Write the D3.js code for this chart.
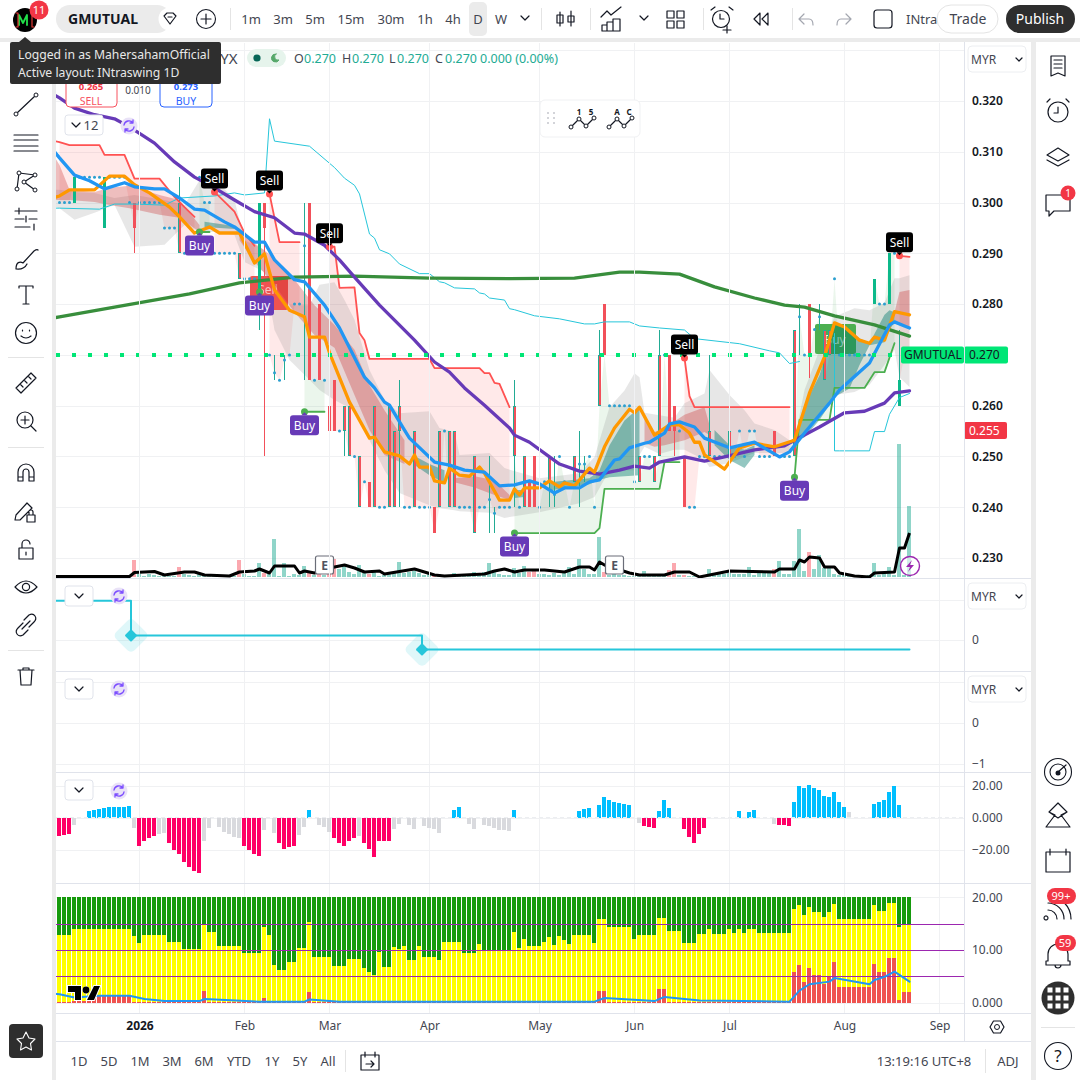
<!DOCTYPE html>
<html>
<head>
<meta charset="utf-8">
<title>GMUTUAL 1D</title>
<script src="https://cdn.jsdelivr.net/npm/d3@7"></script>
<style>
  html, body { margin: 0; background: #fff; }
  svg { display: block; font-family: "Noto Sans", sans-serif; }
  .tick line { display: none; }
</style>
</head>
<body>
<svg id="chart" width="1080" height="1080"></svg>
<script>
// Candles, one entry per daily bar. Flat bars have open === close and show as a dot.
const candleOpen = [
  .300,.300,.300,.300,.305,.305,.305,.305,.305,.295,
  .305,.305,.305,.305,.300,.300,.300,.300,.300,.300,
  .300,.295,.295,.295,.300,.290,.290,.290,.305,.300,
  .300,.290,.290,.290,.290,.290,.290,.285,.285,.285,
  .280,.300,.270,.2665,.265,.269,.270,.280,.280,.2915,
  .300,.265,.280,.265,.260,.265,.255,.260,.260,.250,
  .250,.245,.245,.260,.240,.240,.260,.255,.260,.240,
  .240,.255,.240,.240,.240,.240,.255,.255,.255,.255,
  .240,.240,.240,.250,.240,.240,.2415,.2388,.240,.240,
  .240,.260,.240,.250,.245,.250,.240,.245,.250,.2425,
  .250,.245,.240,.250,.2485,.2485,.250,.240,.270,.280,
  .260,.260,.260,.260,.260,.245,.250,.250,.250,.250,
  .270,.270,.270,.260,.255,.250,.240,.240,.250,.250,
  .255,.250,.250,.250,.255,.250,.255,.250,.255,.255,
  .250,.250,.250,.255,.250,.250,.250,.275,.2775,.270,
  .280,.275,.2775,.275,.275,.285,.270,.270,.270,.270,
  .270,.270,.270,.280,.280,.280,.280,.290,.260,.270,
  .270
];
const candleClose = [
  .300,.300,.300,.305,.305,.305,.305,.305,.305,.305,
  .305,.305,.305,.305,.300,.295,.300,.300,.300,.300,
  .300,.295,.295,.295,.290,.290,.290,.290,.305,.300,
  .300,.290,.290,.290,.290,.290,.285,.285,.285,.285,
  .300,.295,.270,.2665,.265,.269,.270,.280,.280,.2915,
  .265,.265,.265,.265,.255,.255,.255,.255,.250,.250,
  .240,.245,.240,.240,.240,.240,.240,.240,.255,.240,
  .240,.240,.240,.240,.240,.235,.240,.255,.240,.240,
  .240,.240,.240,.235,.240,.240,.2415,.2388,.240,.240,
  .240,.250,.240,.240,.240,.240,.240,.245,.245,.2425,
  .250,.245,.240,.245,.2485,.2485,.250,.240,.260,.270,
  .260,.260,.260,.260,.260,.245,.245,.250,.250,.245,
  .250,.270,.255,.255,.255,.240,.240,.240,.250,.250,
  .250,.250,.250,.250,.250,.250,.255,.250,.255,.255,
  .250,.250,.250,.250,.250,.250,.250,.250,.2775,.270,
  .270,.275,.2775,.265,.270,.285,.270,.270,.270,.270,
  .270,.270,.270,.285,.280,.280,.290,.290,.265,.270,
  .270
];
// bars whose wick goes past the body: [bar, high, low]
const candleWicks = [
  [15,.300,.290],[24,.305,.290],[40,.300,.275],[41,.300,.250],[43,.270,.265],[45,.270,.265],
  [49,.300,.265],[54,.265,.255],[57,.260,.250],[68,.265,.240],[86,.250,.235],[87,.240,.235],
  [91,.265,.240],[98,.250,.240],[99,.250,.240],[104,.255,.240],[105,.250,.245],[108,.275,.260],
  [120,.275,.250],[123,.260,.250],[130,.270,.250],[134,.270,.250],[147,.275,.250],[148,.280,.270],
  [150,.280,.2655],[152,.280,.275],[168,.275,.260]
];
// bars drawn with a teal edge round a red body
const mixedBars = [24,36,57,58,60,63,66,67,68,71,76,78,79,83,91,93,98,103,108,116,119,120,130,134,147,153,154];

// Moving averages as [bar, price]. Bar -1 is the bar just off the left edge.
const purpleMa = [[-1,.3212],[0,.3206],[3,.3186],[7,.3173],[11,.3165],[14,.3149],[19,.3117],[23,.3080],[27,.3050],[31,.3029],[35,.3005],[39,.2982],[43,.2970],[47,.2940],[49,.2938],[53,.2916],[56,.2887],[59,.2853],[64,.2798],[71,.2729],[75,.2686],[78,.2666],[81,.2635],[85,.2601],[90,.2556],[91,.2542],[94,.2528],[98,.2499],[100,.2485],[104,.2471],[108,.2465],[112,.2473],[115,.2481],[118,.2477],[120,.2489],[125,.2499],[129,.2491],[133,.2499],[139,.2513],[145,.2521],[147,.2532],[152,.2558],[157,.2586],[161,.2589],[165,.2605],[167,.2625],[170,.2629]];
const greenMa = [[-1,.2773],[0,.2775],[11,.2794],[26,.2820],[36,.2842],[47,.2853],[59,.2855],[74,.2851],[90,.2850],[103,.2851],[109,.2859],[112,.2863],[116,.2863],[124,.2859],[131,.2834],[139,.2812],[145,.2798],[149,.2794],[155,.2777],[163,.2759],[170,.2737]];
const blueMa = [[-1,.3100],[0,.3088],[3,.3054],[6,.3043],[9,.3027],[13,.3039],[15,.3031],[19,.3027],[21,.3027],[24,.3009],[27,.2987],[29,.2985],[33,.2962],[35,.2952],[39,.2922],[41,.2922],[43,.2887],[47,.2848],[49,.2844],[53,.2798],[56,.2753],[58,.2714],[61,.2656],[63,.2635],[65,.2607],[66,.2601],[69,.2552],[70,.2536],[75,.2489],[78,.2483],[81,.2473],[85,.2469],[88,.2442],[91,.2444],[94,.2452],[96,.2446],[99,.2428],[101,.2438],[104,.2438],[106,.2450],[108,.2454],[111,.2493],[112,.2495],[114,.2517],[117,.2526],[118,.2528],[121,.2546],[122,.2564],[124,.2568],[127,.2558],[129,.2536],[134,.2517],[139,.2528],[144,.2499],[146,.2509],[149,.2546],[154,.2605],[156,.2631],[162,.2684],[166,.2759],[167,.2765],[169,.2757],[170,.2753]];
const orangeMa = [[-1,.3010],[0,.3013],[2,.3025],[7,.3025],[10,.3052],[13,.3052],[15,.3035],[18,.3019],[22,.2991],[24,.2972],[27,.2940],[30,.2952],[32,.2940],[36,.2940],[39,.2881],[41,.2899],[43,.2828],[46,.2788],[49,.2775],[50,.2735],[53,.2735],[54,.2704],[57,.2631],[58,.2607],[62,.2536],[63,.2538],[65,.2509],[68,.2501],[70,.2485],[71,.2503],[72,.2479],[74,.2479],[75,.2452],[77,.2448],[78,.2477],[80,.2463],[82,.2461],[84,.2479],[85,.2467],[88,.2414],[90,.2414],[91,.2436],[92,.2424],[93,.2438],[96,.2438],[98,.2452],[100,.2440],[101,.2448],[103,.2442],[106,.2477],[107,.2469],[109,.2519],[111,.2556],[114,.2593],[115,.2586],[116,.2597],[119,.2542],[122,.2562],[124,.2562],[126,.2546],[127,.2528],[128,.2528],[129,.2503],[133,.2475],[136,.2517],[139,.2526],[143,.2519],[147,.2532],[150,.2625],[153,.2696],[155,.2763],[157,.2755],[160,.2729],[162,.2723],[163,.2735],[165,.2729],[167,.2785],[170,.2779]];

// Thin channel lines
const channelUpper = [[-1,.2989],[0,.2989],[8,.2987],[11,.2997],[15,.2997],[21,.2995],[24,.3009],[31,.3013],[35,.3019],[37,.3015],[41,.3019],[42,.3165],[43,.3121],[50,.3111],[55,.3069],[57,.3048],[59,.3034],[60,.3017],[62,.2938],[63,.2930],[64,.2907],[66,.2899],[68,.2879],[72,.2860],[74,.2860],[76,.2844],[77,.2842],[79,.2832],[83,.2830],[84,.2822],[85,.2820],[86,.2812],[89,.2808],[90,.2791],[91,.2789],[95,.2777],[100,.2771],[105,.2761],[107,.2761],[109,.2765],[114,.2765],[116,.2757],[120,.2753],[125,.2749],[127,.2732],[136,.2722],[142,.2708],[144,.2704],[146,.2683],[148,.2687]];
const channelLower = [[155,.2742],[155,.2511],[156,.2511],[162,.2511],[163,.2549],[165,.2549],[166,.2583],[168,.2616],[170,.2624]];

// Stop lines with their shaded area down to the close
const redStops = [
  [[-1,.3121],[0,.3119],[2,.3113],[8,.3113],[9,.3094],[13,.3094],[15,.3047],[20,.3047],[23,.3011],[25,.2991],[27,.2972]],
  [[31,.3021],[35,.2982],[37,.2940],[39,.2915]],
  [[42,.3017],[44,.2922],[48,.2922]],
  [[54,.2913],[55,.2913],[56,.2832],[59,.2833],[60,.2743],[61,.2729],[62,.2692],[74,.2692],[75,.2674],[84,.2674],[85,.2664],[86,.2664],[87,.2645],[88,.2643],[90,.2597]],
  [[125,.2694],[126,.2619],[127,.2597],[146,.2597]],
  [[168,.2895],[170,.2893]]
];
const greenStops = [
  [[28,.2942],[30,.2942]],
  [[49,.2588],[53,.2588]],
  [[91,.2349],[107,.2349],[108,.2359],[109,.2436],[120,.2436],[121,.2489],[124,.2489]],
  [[147,.2459],[148,.2572],[154,.2572],[155,.2635],[161,.2635],[163,.2666],[165,.2666],[167,.2723]]
];

// Cloud bands as [bar, upper, lower]
const cloudBand = [[-1,.3025,.2992],[0,.3025,.2989],[3,.3021,.2966],[7,.3019,.2980],[11,.3009,.2995],[15,.3015,.2913],[21,.3005,.2917],[25,.2995,.2956],[28,.3044,.2942],[31,.3048,.2942],[35,.3005,.2936],[37,.2926,.2883],[41,.2907,.2863],[43,.2808,.2749],[46,.2798,.2690],[50,.2798,.2651],[52,.2838,.2631],[55,.2843,.2611],[57,.2808,.2601],[59,.2769,.2592],[62,.2670,.2532],[65,.2611,.2473],[68,.2585,.2428],[74,.2589,.2404],[76,.2556,.2398],[79,.2548,.2394],[80,.2503,.2392],[86,.2507,.2389],[89,.2477,.2379],[96,.2457,.2390],[104,.2467,.2408],[107,.2499,.2420],[110,.2597,.2473],[113,.2630,.2473],[115,.2664,.2473],[116,.2656,.2503],[117,.2586,.2519],[120,.2581,.2505],[123,.2576,.2513],[125,.2605,.2513],[129,.2624,.2493],[130,.2670,.2479],[134,.2621,.2487],[137,.2591,.2499],[139,.2565,.2507],[143,.2552,.2507],[146,.2532,.2507],[147,.2532,.2519],[149,.2631,.2542],[152,.2710,.2582],[155,.2775,.2621],[159,.2792,.2627],[162,.2788,.2641],[165,.2802,.2680],[167,.2851,.2710],[168,.2851,.2656],[170,.2857,.2637]];
const coreRed = [
  [[-1,.3090,.3005],[0,.3074,.3005],[2,.3025,.3005],[7,.3021,.3001],[10,.3029,.2995],[14,.3033,.2989],[20,.3015,.2976],[24,.3005,.2970],[28,.2956,.2942]],
  [[36,.2942,.2926],[39,.2920,.2883],[43,.2891,.2838],[47,.2848,.2784],[51,.2798,.2739],[55,.2759,.2714],[59,.2710,.2621],[62,.2640,.2552],[65,.2591,.2503],[69,.2532,.2485]],
  [[79,.2457,.2449],[83,.2461,.2439],[87,.2453,.2424],[90,.2424,.2414]],
  [[117,.2582,.2526],[119,.2548,.2519],[121,.2556,.2522],[125,.2582,.2532],[129,.2597,.2548],[130,.2562,.2542]],
  [[167,.2784,.2765],[168,.2824,.2759],[170,.2828,.2753]]
];
const coreTeal = [
  [[29,.2962,.2952],[35,.2954,.2948]],
  [[71,.2501,.2483],[74,.2485,.2463],[77,.2473,.2448]],
  [[91,.2434,.2418],[93,.2434,.2420]],
  [[98,.2449,.2433],[106,.2457,.2445],[108,.2473,.2454],[110,.2522,.2459],[113,.2571,.2461],[116,.2597,.2463]],
  [[131,.2552,.2522],[134,.2522,.2493],[137,.2513,.2477],[139,.2522,.2503]],
  [[147,.2532,.2528],[149,.2601,.2538],[152,.2660,.2572],[155,.2759,.2617],[158,.2749,.2634],[160,.2733,.2680],[162,.2723,.2719],[165,.2779,.2725],[166,.2788,.2749],[167,.2784,.2765]]
];

// Volume, in thousands of lots (estimated, the pane has no axis)
const volume = [
  1,1,1,1,1,1,1,1,1,1,1,1,1,1,2,17,3,1,3,2,
  1,1,1,1,10,3,2,1,3,1,1,1,1,1,1,1,17,3,1,1,
  14,4,3,38,1,14,1,3,2,11,5,2,3,2,3,18,8,12,5,3,
  12,4,3,7,1,2,4,5,15,4,5,6,4,2,3,2,3,2,2,4,
  2,1,3,5,3,5,14,6,3,2,2,9,4,11,5,8,3,3,2,4,
  2,5,10,3,18,8,3,3,40,5,2,3,2,2,1,1,2,6,2,2,
  2,3,7,14,2,2,1,1,1,1,8,2,3,3,4,3,3,3,10,2,
  5,4,4,8,16,3,3,16,48,6,25,8,22,9,10,3,2,2,1,1,
  1,1,2,14,2,3,10,2,133,2,71
];
const volumeRedExtra = [24,36];
const volumeMa = [[-1,.5],[0,.5],[14,.5],[15,4.5],[19,5.5],[21,2],[25,5],[27,5],[29,2],[34,1],[36,5],[39,6],[40,8],[42,4],[43,11],[47,11],[48,4],[49,6],[51,4],[55,10],[57,12],[59,9],[61,5],[64,6],[65,3],[71,8],[75,2],[77,1],[85,3],[87,6],[89,8],[91,5],[93,7],[97,7],[101,5],[104,10],[106,10],[107,7],[108,15],[109,12],[114,4],[116,2],[121,2],[123,5],[126,5],[128,0],[134,6],[143,5],[144,8],[147,8],[148,17],[149,15],[150,20],[152,19],[153,10],[155,10],[156,4],[159,1],[162,0],[163,4],[167,5],[168,29],[169,29],[170,44]];

// Signals: bar and price of the marker
const sellBars = [31,42,54,125,168];
const sellPrices = [.3021,.3017,.2913,.2694,.2895];
const buyBars = [28,40,49,91,147];
const buyPrices = [.2942,.2824,.2588,.2349,.2459];
const earningsBars = [53,111];

// Second pane: step line
const stepLine = [[-1,.97],[14.3,.97],[14.3,.1],[72.5,.1],[72.5,-.25],[170,-.25]];
const stepMarkers = [[14.3,.1],[72.5,-.25]];

// Histogram pane
const histogram = [
  -11.5,-11,-10.3,-4.7,0,0,3.9,4.5,5.6,6,
  6.4,6.4,6.4,6.4,7,-6.8,-17.5,-14.4,-12.6,-11.5,
  -10.3,-9.7,-15.7,-20,-22.5,-28,-31,-33.6,-34.8,-14.4,
  -6.6,0,-6,-9,-10.3,-12,-12.8,-17.5,-20,-22.5,
  -23.9,-7.8,0,-9.7,-15.9,-19.6,-18.3,-17.7,-11,-6,
  4.5,0,-4.7,-6,-9,-12.8,-15.9,-17.7,-14.6,-12.8,
  -11.5,-15.9,-19.6,-24.5,-14.6,-14.6,-14.6,-7.2,-4.1,0,
  -4.7,-7.2,0,-5.4,-6.6,-7.2,-9.7,0,0,4.5,
  6.4,0,-4.1,-7.2,0,-4.7,-5.4,-6.6,-7.8,-7.8,
  -8.4,4.5,0,0,0,0,0,0,0,0,
  0,0,0,0,3.9,5.2,5.8,0,7.6,12.6,
  10.7,9.5,8.9,8.2,7.6,0,-3.5,-5.4,-6,-6.6,
  3.9,10.7,5.8,0,0,-7.2,-12.2,-15.9,-10.3,-6.6,
  0,0,0,0,0,0,3.9,0,3.3,4.5,
  0,0,0,-4.1,-4.7,-4.7,-5.4,10,20,18.7,
  20.6,18.7,17.5,13.2,12.6,15.7,10,6.4,3.3,0,
  0,0,0,8.2,10,10.7,15.7,19.4,7.6,0,
  0
];
const histogramGreyBars = [3,15,20,21,29,30,32,33,34,35,36,41,43,48,49,52,53,54,60,67,68,70,71,73,74,75,76,82,83,85,86,87,88,89,90,116,143,158];

// Bottom pane: green runs to the top level, yellow and red are stacked in front
const stackTop = 20;
const stackYellow = [
  12.8,12.8,12.8,13.9,13.9,13.9,13.9,13.9,13.9,13.9,
  13.9,13.9,13.9,13.9,13.9,12.6,11.3,12.8,12.8,12.8,
  12.8,12.8,11.5,11.5,11.5,10.2,10.2,10.2,10.2,14.9,
  13.4,13.4,10.7,10.7,10.7,10.7,10.7,9.4,9.4,9.4,
  9.4,14.3,12.8,7.1,6.2,6.2,7.7,7.7,10.3,10.3,
  15.3,8.6,8.6,8.6,8.6,6.9,6.9,6.9,8.3,8.3,
  8.3,6.6,5.8,5.2,9.6,6.8,6.8,10.5,10.2,10.7,
  8.1,8.1,10.7,8.6,8.6,8.6,8.1,11.5,11.5,11.5,
  11.5,9.4,9.4,9.4,11.1,9.8,9.8,9.8,9.8,9.8,
  9.8,13.4,10.3,12.1,10.7,10.7,10.7,11.5,12.4,10.9,
  12.6,11.9,11.1,12.8,12.8,12.8,12.8,11.3,15.8,15.8,
  14.3,14.3,14.3,14.3,14.3,12.1,12.8,12.8,12.8,12.8,
  16,16,13.6,13.6,13.6,11.3,11.3,11.3,13,13,
  13.9,13,13,13,13.9,13.2,13.9,13.2,13.9,13.9,
  13.2,13.2,13.2,13.2,13.2,13.2,13.2,17.7,18.5,16.6,
  18.1,17.2,17.2,16.2,17.2,18.7,15.8,15.8,15.8,15.8,
  15.8,15.8,15.8,18.5,17.4,17.4,19,19,14.3,14.9,
  14.9
];
const stackRed = [
  .1,.1,.1,.3,.3,.3,.3,1.3,1.3,1.3,
  1.3,1.3,1.3,1.3,1.3,.1,.1,.1,.1,.1,
  .1,.1,.1,.1,.1,.1,.1,.1,.1,2.2,
  .1,.1,.1,.1,.1,.1,.1,.1,.1,.1,
  .1,.9,.1,.1,.1,.1,.1,.1,.1,.1,
  2,.2,.2,.2,.2,.05,.05,.05,.05,.05,
  .05,.05,.05,.05,.05,.05,.05,.05,.05,.05,
  .05,.05,.05,.05,.05,.05,.05,.05,.05,.05,
  .05,.05,.05,.05,.05,.05,.05,.05,.05,.05,
  .05,.05,.05,.05,.05,.05,.05,.05,.05,.05,
  .05,.05,.05,.05,.05,.05,.05,.05,2.2,2.2,
  .2,.2,.2,.2,.2,.1,.1,.1,.1,.1,
  2.6,2.6,.1,.1,.1,.1,.1,.1,.1,.1,
  .1,.1,.1,.1,.1,.1,.1,.1,.1,.1,
  .1,.1,.1,.1,.1,.1,.1,5.8,7.1,3.9,
  6.6,5.2,5.2,3.5,4.9,7.7,3,3,3,3,
  3,3,3,7.3,5.8,5.8,8.5,8.5,.5,2,
  2
];
const stackLine = [[-1,1.7],[0,1.6],[3,1],[8,1.3],[14,1.3],[17,.7],[21,.3],[28,.3],[29,.7],[40,.2],[49,.2],[50,.6],[56,.2],[107,.2],[109,.9],[119,.3],[121,1.1],[128,.4],[146,.2],[148,2.3],[150,3.5],[154,4],[155,4.7],[162,3.5],[163,4.3],[165,4.9],[167,5.9],[170,4]];
const stackLevels = [15,10,5];

// Axis labels (0.270 sits in the last price tag, so it is not repeated here)
const priceTicks = [.320,.310,.300,.290,.280,.260,.250,.240,.230];
const priceGrid = [.330,.320,.310,.300,.290,.280,.270,.260,.250,.240,.230];
const monthBars = [16,37,54,74,96,115,134,157,176];
const monthLabels = ['2026','Feb','Mar','Apr','May','Jun','Jul','Aug','Sep'];
const stepTicks = [0];
const stepGrid = [1,0];
const emptyTicks = [0,-1];
const emptyGrid = [1,0,-1];
const histogramTicks = [20,0,-20];
const stackTicks = [20,10,0];
const stackGrid = [20,0];
const lastPrice = .270;
const markPrice = .255;

// Toolbar labels
const intervals = [['1m',251],['3m',283],['5m',315],['15m',351],['30m',391],['1h',425],['4h',453],['D',478],['W',501]];
const ranges = [['1D',79],['5D',109],['1M',140],['3M',172],['6M',204],['YTD',239],['1Y',272],['5Y',300],['All',328]];

const colors = {
  grid: '#f0f1f3', sep: '#e0e3eb', ink: '#131722', soft: '#434651', gutter: '#ebebeb',
  up: '#0cb98a', down: '#f2505a', teal: '#22ab94', dot: '#2b9fcf',
  purple: '#673ab7', greenMa: '#388e3c', blueMa: '#2196f3', orange: '#ff9800',
  cyan: '#26c6da', stopRed: '#ff5252', stopGreen: '#4caf50', lastGreen: '#00e676'
};

const svg = d3.select('#chart');
const left = 56;
const right = 964;

// //////////////////////////////////////////////////////////////////////////
// Scales
const x = d3.scaleLinear().domain([0, 176]).range([59.5, 939.5]);
const yPrice = d3.scaleLinear().domain([.32, .23]).range([101, 558]);
const yVolume = d3.scaleLinear().domain([0, 133]).range([577, 444]);
const yStep = d3.scaleLinear().domain([1, 0]).range([599.5, 639.5]);
const yEmpty = d3.scaleLinear().domain([1, 0, -1]).range([682, 723, 763.5]);
const yHist = d3.scaleLinear().domain([20, -20]).range([785.5, 849.5]);
const yStack = d3.scaleLinear().domain([0, 20]).range([1002.7, 897.3]);

svg.append('clipPath').attr('id', 'main-clip')
  .append('rect').attr('x', left).attr('y', 43).attr('width', right - left).attr('height', 535);

const main = svg.append('g').attr('clip-path', 'url(#main-clip)');

// //////////////////////////////////////////////////////////////////////////
// Grid
const hGrid = (parent, scale, values) => parent.selectAll(null).data(values).enter().append('line')
  .attr('x1', left).attr('x2', right)
  .attr('y1', (d) => Math.round(scale(d)) + 0.5).attr('y2', (d) => Math.round(scale(d)) + 0.5)
  .attr('stroke', colors.grid);

svg.selectAll('line.vgrid').data(monthBars).enter().append('line')
  .attr('class', 'vgrid')
  .attr('x1', (d) => x(d)).attr('x2', (d) => x(d))
  .attr('y1', 43).attr('y2', 1013)
  .attr('stroke', colors.grid);

hGrid(main, yPrice, priceGrid);
hGrid(svg, yStep, stepGrid);
hGrid(svg, yEmpty, emptyGrid);
hGrid(svg, yHist, histogramTicks);
hGrid(svg, yStack, stackGrid);

// //////////////////////////////////////////////////////////////////////////
// Main pane: shaded areas first
const line = (scale) => d3.line().x((d) => x(d[0])).y((d) => scale(d[1]));
const bandArea = d3.area().x((d) => x(d[0])).y0((d) => yPrice(d[1])).y1((d) => yPrice(d[2]));

const stopFill = (stop, fill) => {
  const level = d3.scaleLinear().domain(stop.map((d) => d[0])).range(stop.map((d) => d[1]));
  const bars = d3.range(Math.max(stop[0][0], 0), stop[stop.length - 1][0] + 1);
  main.append('path')
    .datum(bars.map((b) => [b, level(b), candleClose[b]]))
    .attr('d', bandArea)
    .attr('fill', fill);
};

redStops.forEach((stop) => stopFill(stop, 'rgba(255,82,82,.13)'));
greenStops.forEach((stop) => stopFill(stop, 'rgba(76,175,80,.11)'));

main.append('path').datum(cloudBand).attr('d', bandArea).attr('fill', 'rgba(120,120,120,.18)');

// Old signal boxes sit under the core band
main.append('rect').attr('x', 250).attr('y', 276).attr('width', 38).attr('height', 34).attr('rx', 2).attr('fill', '#ef5350');
main.append('text').attr('x', 268).attr('y', 294).attr('text-anchor', 'middle').attr('font-size', 12).attr('fill', '#f9c4c4').text('Sell');
main.append('rect').attr('x', 815).attr('y', 324).attr('width', 41).attr('height', 30).attr('rx', 2).attr('fill', colors.stopGreen);
main.append('text').attr('x', 835).attr('y', 344).attr('text-anchor', 'middle').attr('font-size', 12).attr('fill', '#e8f5e9').text('Buy');

coreRed.forEach((band) => main.append('path').datum(band).attr('d', bandArea).attr('fill', 'rgba(198,40,40,.3)'));
coreTeal.forEach((band) => main.append('path').datum(band).attr('d', bandArea).attr('fill', 'rgba(0,121,107,.42)'));

// //////////////////////////////////////////////////////////////////////////
// Volume
const volumeIsRed = (i) => (candleClose[i] < candleOpen[i] && !mixedBars.includes(i)) || volumeRedExtra.includes(i);
main.selectAll('rect.volume').data(volume).enter().append('rect')
  .attr('class', 'volume')
  .attr('x', (d, i) => x(i) - 2.5).attr('width', 4)
  .attr('y', (d) => yVolume(d)).attr('height', (d) => yVolume(0) - yVolume(d))
  .attr('fill', (d, i) => (volumeIsRed(i) ? 'rgba(247,82,95,.5)' : 'rgba(34,171,148,.5)'))
  .attr('shape-rendering', 'crispEdges');

main.append('path').datum(volumeMa)
  .attr('d', line(yVolume))
  .attr('fill', 'none').attr('stroke', '#000').attr('stroke-width', 3).attr('stroke-linejoin', 'round');

// //////////////////////////////////////////////////////////////////////////
// Candles
const wicks = main.append('g').attr('shape-rendering', 'crispEdges');
candleWicks.forEach(([bar, high, low]) => {
  const up = candleClose[bar] > candleOpen[bar];
  const flat = candleClose[bar] === candleOpen[bar];
  const red = !up && !flat && !mixedBars.includes(bar);
  wicks.append('line')
    .attr('x1', x(bar)).attr('x2', x(bar))
    .attr('y1', yPrice(high)).attr('y2', yPrice(low))
    .attr('stroke', red ? colors.down : colors.teal);
});

const bodies = d3.range(candleOpen.length).filter((i) => candleOpen[i] !== candleClose[i]);
const bodyTop = (i) => yPrice(Math.max(candleOpen[i], candleClose[i]));
const bodyHeight = (i) => yPrice(Math.min(candleOpen[i], candleClose[i])) - bodyTop(i);

main.selectAll('rect.body').data(bodies).enter().append('rect')
  .attr('class', 'body')
  .attr('x', (i) => x(i) - 1.5).attr('width', 3)
  .attr('y', bodyTop).attr('height', bodyHeight)
  .attr('fill', (i) => {
    if (mixedBars.includes(i)) return colors.teal;
    return candleClose[i] > candleOpen[i] ? colors.up : colors.down;
  })
  .attr('shape-rendering', 'crispEdges');

main.selectAll('rect.core').data(bodies.filter((i) => mixedBars.includes(i))).enter().append('rect')
  .attr('class', 'core')
  .attr('x', (i) => x(i) - 0.5).attr('width', 1.5)
  .attr('y', (i) => bodyTop(i) + 1).attr('height', (i) => bodyHeight(i) - 2)
  .attr('fill', colors.down)
  .attr('shape-rendering', 'crispEdges');

main.selectAll('circle.flat')
  .data(d3.range(candleOpen.length).filter((i) => candleOpen[i] === candleClose[i]))
  .enter().append('circle')
  .attr('class', 'flat')
  .attr('cx', (i) => x(i)).attr('cy', (i) => yPrice(candleClose[i]))
  .attr('r', 1.5)
  .attr('fill', colors.dot);

// //////////////////////////////////////////////////////////////////////////
// Lines on top of the candles
const drawLine = (parent, data, scale, stroke, width) => parent.append('path').datum(data)
  .attr('d', line(scale))
  .attr('fill', 'none')
  .attr('stroke', stroke).attr('stroke-width', width)
  .attr('stroke-linejoin', 'round').attr('stroke-linecap', 'round');

drawLine(main, channelUpper, yPrice, colors.cyan, 1);
drawLine(main, channelLower, yPrice, colors.cyan, 1);
redStops.forEach((stop) => drawLine(main, stop, yPrice, colors.stopRed, 1.8));
greenStops.forEach((stop) => drawLine(main, stop, yPrice, colors.stopGreen, 1.8));
drawLine(main, greenMa, yPrice, colors.greenMa, 3.3);
drawLine(main, purpleMa, yPrice, colors.purple, 3.3);
drawLine(main, orangeMa, yPrice, colors.orange, 3.3);
drawLine(main, blueMa, yPrice, colors.blueMa, 3.3);

// Last price dotted line
main.append('line')
  .attr('x1', left).attr('x2', right)
  .attr('y1', Math.round(yPrice(lastPrice))).attr('y2', Math.round(yPrice(lastPrice)))
  .attr('stroke', colors.lastGreen).attr('stroke-width', 4).attr('stroke-dasharray', '4 12');

// //////////////////////////////////////////////////////////////////////////
// Signal labels
const signal = (bar, price, label, fill, dot, below) => {
  const cx = x(bar);
  const cy = yPrice(price);
  const w = label === 'Sell' ? 27 : 29;
  const top = below ? cy + 3.5 : cy - 23.5;
  main.append('circle').attr('cx', cx).attr('cy', cy).attr('r', 3.5).attr('fill', dot);
  main.append('rect').attr('x', cx - w / 2).attr('y', top).attr('width', w).attr('height', 20).attr('rx', 3).attr('fill', fill);
  main.append('path')
    .attr('d', below ? `M${cx - 3} ${top}L${cx} ${top - 3}L${cx + 3} ${top}Z` : `M${cx - 3} ${top + 20}L${cx} ${top + 23}L${cx + 3} ${top + 20}Z`)
    .attr('fill', fill);
  main.append('text').attr('x', cx).attr('y', top + 14.5)
    .attr('text-anchor', 'middle').attr('font-size', 12).attr('fill', '#fff').text(label);
};
sellBars.forEach((bar, i) => signal(bar, sellPrices[i], 'Sell', '#000', colors.stopRed, false));
buyBars.forEach((bar, i) => signal(bar, buyPrices[i], 'Buy', colors.purple, colors.stopGreen, true));

// Earnings flags
earningsBars.forEach((bar) => {
  const g = main.append('g').attr('transform', `translate(${x(bar)},565)`);
  g.append('rect').attr('x', -9).attr('y', -9).attr('width', 18).attr('height', 18).attr('rx', 2)
    .attr('fill', '#fff').attr('stroke', '#6a6d78').attr('stroke-width', 1.2);
  g.append('text').attr('y', 4.5).attr('text-anchor', 'middle').attr('font-size', 12).attr('font-weight', 700)
    .attr('fill', '#50535e').text('E');
});

// Lightning marker at the end of the series
const bolt = svg.append('g').attr('transform', 'translate(910,566)');
bolt.append('circle').attr('r', 9.5).attr('fill', 'rgba(255,255,255,.6)').attr('stroke', '#9c27b0').attr('stroke-width', 1.4);
bolt.append('path').attr('d', 'M2 -6L-4 1H0L-2 6L4 -1H0Z').attr('fill', '#9c27b0');

// //////////////////////////////////////////////////////////////////////////
// Step pane
stepMarkers.forEach(([bar, val]) => {
  svg.append('rect').attr('x', -13).attr('y', -13).attr('width', 26).attr('height', 26).attr('rx', 5)
    .attr('transform', `translate(${x(bar)},${yStep(val)}) rotate(45)`).attr('fill', 'rgba(38,198,218,.15)');
});
drawLine(svg, stepLine, yStep, colors.cyan, 2);
stepMarkers.forEach(([bar, val]) => {
  svg.append('rect').attr('x', -4.5).attr('y', -4.5).attr('width', 9).attr('height', 9).attr('rx', 1)
    .attr('transform', `translate(${x(bar)},${yStep(val)}) rotate(45)`).attr('fill', colors.cyan);
});

// //////////////////////////////////////////////////////////////////////////
// Histogram pane
svg.append('g').selectAll('rect').data(histogram).enter().append('rect')
  .attr('x', (d, i) => x(i) - 2.5).attr('width', 4)
  .attr('y', (d) => Math.min(yHist(d), yHist(0))).attr('height', (d) => Math.abs(yHist(d) - yHist(0)))
  .attr('fill', (d, i) => {
    if (histogramGreyBars.includes(i)) return '#d9dade';
    return d > 0 ? '#00bfff' : '#ff0066';
  })
  .attr('shape-rendering', 'crispEdges');
svg.append('line').attr('x1', left).attr('x2', right).attr('y1', yHist(0)).attr('y2', yHist(0))
  .attr('stroke', '#eceef1').attr('stroke-dasharray', '4 3');

// //////////////////////////////////////////////////////////////////////////
// Stacked pane
const stack = svg.append('g').attr('shape-rendering', 'crispEdges');
const stackBars = (values, fill) => stack.selectAll(null).data(values).enter().append('rect')
  .attr('x', (d, i) => x(i) - 2.5).attr('width', 4)
  .attr('y', (d) => yStack(d)).attr('height', (d) => yStack(0) - yStack(d))
  .attr('fill', fill);
stackBars(stackYellow.map(() => stackTop), '#169a0c');
stackBars(stackYellow, '#ffff00');
stackBars(stackRed, '#ef5350');

stackLevels.forEach((level) => svg.append('line')
  .attr('x1', left).attr('x2', right)
  .attr('y1', Math.round(yStack(level)) + 0.5).attr('y2', Math.round(yStack(level)) + 0.5)
  .attr('stroke', '#9c27b0'));
drawLine(svg, stackLine, yStack, colors.blueMa, 2);

// TradingView mark
svg.append('path')
  .attr('d', 'M68 986H81V1000H75V992H68ZM94 986H100L94 1000H87Z')
  .attr('fill', '#000').attr('stroke', '#fff').attr('stroke-width', 2).attr('paint-order', 'stroke');
svg.append('circle').attr('cx', 86).attr('cy', 990).attr('r', 3.4)
  .attr('fill', '#000').attr('stroke', '#fff').attr('stroke-width', 1).attr('paint-order', 'stroke');

// //////////////////////////////////////////////////////////////////////////
// Axes
const axisStyle = (g, weight) => {
  g.select('.domain').remove();
  g.selectAll('text').attr('font-size', 12).attr('font-weight', weight).attr('fill', weight ? colors.ink : colors.soft)
    .attr('font-family', '"Noto Sans", sans-serif');
};
const yAxis = (scale, values, format, weight) => svg.append('g')
  .attr('transform', `translate(${right},0)`)
  .call(d3.axisRight(scale).tickValues(values).tickFormat(format).tickSize(0).tickPadding(8))
  .call(axisStyle, weight);

const minus = (s) => s.replace('-', '\u2212');
yAxis(yPrice, priceTicks, d3.format('.3f'), 600);
yAxis(yStep, stepTicks, d3.format('d'), 0);
yAxis(yEmpty, emptyTicks, (d) => minus(d3.format('d')(d)), 0);
yAxis(yHist, histogramTicks, (d) => minus(d === 0 ? '0.000' : d3.format('.2f')(d)), 0);
yAxis(yStack, stackTicks, (d) => (d === 0 ? '0.000' : d3.format('.2f')(d)), 0);

const timeAxis = svg.append('g').attr('transform', 'translate(0,1013)')
  .call(d3.axisBottom(x).tickValues(monthBars).tickFormat((d, i) => monthLabels[i]).tickSize(0).tickPadding(8))
  .call(axisStyle, 0);
timeAxis.selectAll('text').filter((d) => d === monthBars[0]).attr('font-weight', 700).attr('fill', colors.ink);

// //////////////////////////////////////////////////////////////////////////
// Price labels on the axis
const tag = (x0, w, yc, h, fill, label, color, anchorX) => {
  svg.append('rect').attr('x', x0).attr('y', yc - h / 2).attr('width', w).attr('height', h).attr('rx', 2).attr('fill', fill);
  svg.append('text').attr('x', anchorX).attr('y', yc + 4.3).attr('font-size', 12).attr('fill', color).text(label);
};
tag(901, 63, yPrice(lastPrice), 17, colors.lastGreen, 'GMUTUAL', colors.ink, 904);
tag(964, 44, yPrice(lastPrice), 17, colors.lastGreen, '0.270', colors.ink, 969);
tag(964, 43, yPrice(markPrice) - 0.5, 17, '#f23645', '0.255', '#fff', 969);

// //////////////////////////////////////////////////////////////////////////
// Page frame
const rectBox = (x0, y0, w, h, fill, extra = {}) => {
  const r = svg.append('rect').attr('x', x0).attr('y', y0).attr('width', w).attr('height', h).attr('fill', fill);
  Object.keys(extra).forEach((k) => r.attr(k, extra[k]));
  return r;
};
const label = (s, x0, y0, size = 13, fill = colors.ink, anchor = 'middle', weight = 400) => svg.append('text')
  .attr('x', x0).attr('y', y0).attr('font-size', size).attr('fill', fill)
  .attr('text-anchor', anchor).attr('font-weight', weight).text(s);
const icon = (d, tx, ty, width = 1.2, stroke = colors.ink, fill = 'none') => svg.append('path')
  .attr('d', d).attr('transform', `translate(${tx},${ty})`)
  .attr('fill', fill).attr('stroke', stroke).attr('stroke-width', width)
  .attr('stroke-linecap', 'round').attr('stroke-linejoin', 'round');

rectBox(0, 0, 52, 1080, '#fff');
rectBox(1036, 0, 44, 1080, '#fff');
rectBox(0, 0, 1080, 38, '#fff');
rectBox(0, 38, 1080, 4, colors.gutter);
rectBox(52, 38, 4, 1042, colors.gutter);
rectBox(1031, 38, 5, 1042, colors.gutter);
rectBox(56, 1041, 975, 1, colors.sep);
rectBox(56, 1042, 975, 38, '#fff');

[578, 671, 772, 883, 1013].forEach((yy) => rectBox(56, yy, 975, 1, colors.sep));
rectBox(964, 42, 1, 999, colors.sep);

// Top bar
rectBox(56, 5, 115, 28, '#ebebeb', { rx: 14 });
label('GMUTUAL', 68, 24, 14, colors.ink, 'start', 700);
svg.append('circle').attr('cx', 170).attr('cy', 19).attr('r', 11.5).attr('fill', '#fff');
icon('M-6 -3L-3 -6H3L6 -3L0 5ZM-2 -2H2', 170, 19);
svg.append('circle').attr('cx', 206).attr('cy', 19).attr('r', 9.5).attr('fill', 'none').attr('stroke', colors.ink).attr('stroke-width', 1.1);
icon('M-5 0H5M0 -5V5', 206, 19);
[230, 541, 590, 703, 792].forEach((xx) => rectBox(xx, 8, 1, 22, '#e4e4e4'));
rectBox(469, 2, 18, 34, '#ebebeb', { rx: 5 });
intervals.forEach(([t, xx]) => label(t, xx, 24, 13, colors.soft));
icon('M-4 -2L0 2L4 -2', 525, 18);

icon('M-7 -7V7M-10 -4H-4V4H-10ZM4 -8V7M1 -3H7V3H1Z', 567, 19);
icon('M-11 -2L-5 -8L-1 -4L9 -12M-10 6V12H-5V6ZM-5 3V12H1V3ZM1 0V12H8V0Z', 612, 19);
icon('M-4 -2L0 2L4 -2', 644, 18);
icon('M-8 -8H-1V-1H-8ZM2 -8H9V-1H2ZM-8 2H-1V9H-8ZM2 2H9V9H2Z', 675, 19);
svg.append('circle').attr('cx', 721).attr('cy', 19).attr('r', 8.5).attr('fill', 'none').attr('stroke', colors.ink).attr('stroke-width', 1.2);
icon('M-1 -5V0H3M-10 -9L-6 -12M8 -12L12 -9M6 7V14M2 11H10', 721, 19);
icon('M-1 -6L-7 0L-1 6ZM7 -6L1 0L7 6Z', 761, 19);
icon('M-7 -1L-2 -6M-7 -1L-2 4M-7 -1H3Q7 -1 7 5', 806, 20, 1.2, '#a3a6af');
icon('M7 -1L2 -6M7 -1L2 4M7 -1H-3Q-7 -1 -7 5', 844, 20, 1.2, '#a3a6af');
rectBox(874, 10, 18, 18, 'none', { rx: 3, stroke: colors.ink, 'stroke-width': 1.2 });
label('INtra', 906, 24, 13, colors.soft, 'start');
rectBox(937, 5, 61, 28, '#fff', { rx: 14, stroke: '#e4e4e4' });
label('Trade', 968, 24, 14, colors.soft);
rectBox(1006, 5, 69, 28, '#2e2e2e', { rx: 14 });
label('Publish', 1040, 24, 14, '#fff');

// Logo with notification badge
svg.append('circle').attr('cx', 25).attr('cy', 20).attr('r', 12).attr('fill', '#000');
icon('M-6 5V-5L-2 3L2 -5V5', 25, 20, 1.8, '#22e04a');
icon('M-9 -7H-7V7H-9M9 -7H7V7H9', 25, 20, 1.2, '#e53935');
svg.append('circle').attr('cx', 39).attr('cy', 10).attr('r', 9.5).attr('fill', '#f23645');
label('11', 39, 14, 11, '#fff');

// Legend row and tooltip
label('YX', 229, 64, 15, colors.soft);
rectBox(247, 49, 39, 18, '#e6f4ec', { rx: 9 });
svg.append('circle').attr('cx', 257).attr('cy', 58).attr('r', 3.6).attr('fill', '#056656');
icon('M1 -4A4 4 0 1 0 4 2A3.4 3.4 0 0 1 1 -4Z', 275, 58, 1, '#56a86a', '#56a86a');
const legendGreen = '#22ab94';
[['O', 294], ['H', 342], ['L', 389], ['C', 435]].forEach(([t, xx]) => {
  label(t, xx, 63, 12.5, colors.soft, 'start');
  label('0.270', xx + (t === 'L' ? 8 : 10), 63, 12.5, legendGreen, 'start');
});
label('0.000 (0.00%)', 480, 63, 12.5, legendGreen, 'start');

rectBox(66, 80, 51, 27, '#fff', { rx: 4, stroke: '#f7525f' });
label('0.265', 91, 90, 9.5, '#f23645', 'middle', 700);
label('SELL', 91, 104.5, 10.5, '#f7525f');
label('0.010', 138, 94, 10, colors.soft);
rectBox(160, 80, 52, 27, '#fff', { rx: 4, stroke: '#2962ff' });
label('0.273', 186, 90, 9.5, '#2962ff', 'middle', 700);
label('BUY', 186, 104.5, 10.5, '#2962ff');

rectBox(10, 42, 211, 42, '#2e2e2e', { rx: 2 });
icon('M-6 0L0 -5L6 0Z', 25, 42, 0, 'none', '#2e2e2e');
label('Logged in as MahersahamOfficial', 18, 59, 12.2, '#e8e8e8', 'start');
label('Active layout: INtraswing 1D', 18, 77, 12.2, '#e8e8e8', 'start');

// Pane controls
const collapse = (x0, y0, text) => {
  rectBox(x0, y0, text ? 38 : 28, 20, '#fff', { rx: 3, stroke: '#e0e3eb' });
  icon('M-4 -2L0 2L4 -2', x0 + (text ? 11 : 14), y0 + 10);
  if (text) label(text, x0 + 26, y0 + 15, 13, colors.soft);
};
const refresh = (cx, cy) => {
  svg.append('circle').attr('cx', cx).attr('cy', cy).attr('r', 8.5).attr('fill', '#e9e2f7');
  icon('M-5 -1A5 5 0 0 1 4 -3M5 1A5 5 0 0 1 -4 3M4 -6V-3H1M-4 6V3H-1', cx, cy, 1.3, '#7c4dff');
};
collapse(65, 115, '12'); refresh(129, 126);
collapse(65, 586, ''); refresh(119, 596);
collapse(65, 679, ''); refresh(119, 689);
collapse(65, 780, ''); refresh(119, 791);

// Currency selectors
[46, 583, 676].forEach((yy) => {
  rectBox(968, yy, 58, 26, '#fff', { rx: 4, stroke: '#eceef1' });
  label('MYR', 971, yy + 17.5, 12, colors.soft, 'start');
  icon('M-3 -1L0 2L3 -1', 1019, yy + 13);
});

// Floating drawing bar
rectBox(540, 100, 100, 37, '#fff', { rx: 5, stroke: '#f0f1f3' });
svg.selectAll(null).data(d3.cross([548, 554], [113, 118, 123])).enter().append('circle')
  .attr('cx', (d) => d[0]).attr('cy', (d) => d[1]).attr('r', 1).attr('fill', '#c4c6cd');
[[583, '1', '5'], [621, 'A', 'C']].forEach(([cx, a, b]) => {
  label(a, cx - 4, 115, 8, colors.ink, 'middle', 700);
  label(b, cx + 8, 115, 8, colors.ink, 'middle', 700);
  icon('M-12 7L-4 -1L3 6L11 -2', cx, 120);
  [[-12, 7], [-4, -1], [3, 6], [11, -2]].forEach(([a1, b1]) => svg.append('circle')
    .attr('cx', cx + a1).attr('cy', 120 + b1).attr('r', 2).attr('fill', '#fff').attr('stroke', colors.ink));
});

// Left toolbar
icon('M-9 9L9 -8', 26, 104);
[[-10, 10], [10, -9]].forEach(([a, b]) => svg.append('circle').attr('cx', 26 + a).attr('cy', 104 + b).attr('r', 2).attr('fill', '#fff').attr('stroke', colors.ink));
icon('M-12 -8H12M-12 -3H12M-12 3H12M-12 8H12', 26, 143);
icon('M-9 8L-7 -8L9 -6L-2 1L9 9', 26, 181);
[[-9, 8], [-7, -8], [9, -6], [-2, 1], [9, 9]].forEach(([a, b]) => svg.append('circle').attr('cx', 26 + a).attr('cy', 181 + b).attr('r', 2).attr('fill', '#fff').attr('stroke', colors.ink));
icon('M-11 -8H11M-11 0H-2M3 0H11M-11 8H4M-7 -11V-5M0 -3V3M8 5V11', 26, 219);
icon('M-10 10C-10 3 -6 2 -3 4L8 -8Q11 -10 12 -9M-10 10Q-2 11 1 5', 26, 259);
icon('M-7 -7V-9H7V-7M0 -9V9M-3 9H3', 26, 295);
svg.append('circle').attr('cx', 26).attr('cy', 333).attr('r', 10.5).attr('fill', 'none').attr('stroke', colors.ink).attr('stroke-width', 1.2);
icon('M-5 3Q0 7 5 3M-3.5 -3V-2M3.5 -3V-2', 26, 333);
rectBox(8, 357, 36, 1, '#e4e4e4');
icon('M-10 5L5 -10L10 -5L-5 10ZM-6 1L-3 4M-2 -3L1 0M2 -7L5 -4', 26, 383);
svg.append('circle').attr('cx', 25).attr('cy', 420).attr('r', 8).attr('fill', 'none').attr('stroke', colors.ink).attr('stroke-width', 1.2);
icon('M6 6L11 11M-4 0H4M0 -4V4', 25, 420);
rectBox(8, 447, 36, 1, '#e4e4e4');
icon('M-8 8V-1A8 8 0 0 1 8 -1V8H3V-1A3 3 0 0 0 -3 -1V8ZM-8 4H-3M3 4H8', 26, 473);
icon('M-9 9L-8 4L3 -8L8 -3L-4 9ZM3 4H11V11H3ZM5 4V1A2 2 0 0 1 9 1V4', 24, 511);
icon('M-7 -1H7V10H-7ZM-4 -1V-5A4 4 0 0 1 4 -5M0 3V6', 26, 549);
icon('M-11 0Q0 -12 11 0Q0 12 -11 0Z', 26, 587);
svg.append('circle').attr('cx', 26).attr('cy', 587).attr('r', 3.6).attr('fill', 'none').attr('stroke', colors.ink).attr('stroke-width', 1.2);
icon('M-2 -5L3 -10Q7 -12 9 -9Q11 -6 8 -3L3 2M2 5L-3 10Q-7 12 -9 9Q-11 6 -8 3L-3 -2M-4 4L4 -4', 26, 625);
rectBox(8, 650, 36, 1, '#e4e4e4');
icon('M-8 -6H8M-6 -6L-5 9H5L6 -6M-3 -6V-8H3V-6', 26, 676);
rectBox(9, 1024, 34, 34, '#2e2e2e', { rx: 4 });
icon('M0 -9L3 -3L9 -2L4.5 2.5L5.5 9L0 6L-5.5 9L-4.5 2.5L-9 -2L-3 -3Z', 26, 1041, 1.1, '#fff');

// Right toolbar
icon('M-7 -10H7V10L0 7L-7 10ZM-4 -6H4M-4 -2H4M-4 2H4', 1058, 66);
svg.append('circle').attr('cx', 1058).attr('cy', 112).attr('r', 10).attr('fill', 'none').attr('stroke', colors.ink).attr('stroke-width', 1.2);
icon('M0 -5V1H-4M-11 -10L-8 -13M8 -13L11 -10', 1058, 112);
icon('M0 -10L11 -3L0 3L-11 -3ZM-11 2L0 8L11 2', 1058, 158);
icon('M-12 -9H12V7H-4L-9 12V7H-12Z', 1058, 204);
svg.append('circle').attr('cx', 1068).attr('cy', 193).attr('r', 7.5).attr('fill', '#f23645');
label('1', 1068, 197, 10, '#fff');
svg.append('circle').attr('cx', 1058).attr('cy', 772).attr('r', 13.5).attr('fill', 'none').attr('stroke', colors.ink).attr('stroke-width', 1.1);
svg.append('circle').attr('cx', 1058).attr('cy', 772).attr('r', 8).attr('fill', 'none').attr('stroke', colors.ink).attr('stroke-width', 1.1);
svg.append('circle').attr('cx', 1058).attr('cy', 773).attr('r', 2.5).attr('fill', colors.ink);
icon('M0 0L8 -7', 1058, 772);
icon('M-12 12L-3 0L-9 -3L0 -12L9 -3L3 0L12 12ZM-9 -3L0 3L9 -3', 1058, 815);
icon('M-12 -8H12V12H-12ZM-8 -11V-5M8 -11V-5', 1058, 860);
icon('M-10 11A2 2 0 1 1 -10 10.9ZM-10 3A9 9 0 0 1 -1 12M-10 -4A16 16 0 0 1 6 12M-10 -11A23 23 0 0 1 13 12', 1058, 907);
rectBox(1047, 888, 29, 16, '#f23645', { rx: 8 });
label('99+', 1061, 900, 11, '#fff');
icon('M-10 8V1A10 10 0 0 1 10 1V8H12V12H-12V8ZM-3 12A3 3 0 0 0 3 12', 1058, 953);
rectBox(1055, 935, 21, 16, '#f23645', { rx: 8 });
label('59', 1065, 947, 11, '#fff');
svg.append('circle').attr('cx', 1058).attr('cy', 998).attr('r', 16.5).attr('fill', '#2e2e2e');
svg.selectAll(null).data(d3.cross([1050, 1058, 1066], [990, 998, 1006])).enter().append('rect')
  .attr('x', (d) => d[0] - 2.5).attr('y', (d) => d[1] - 2.5).attr('width', 5).attr('height', 5).attr('fill', '#fff');
rectBox(1041, 1027, 34, 1, '#e4e4e4');
svg.append('circle').attr('cx', 1058).attr('cy', 1056).attr('r', 13.5).attr('fill', 'none').attr('stroke', colors.ink).attr('stroke-width', 1.1);
label('?', 1058, 1062, 17, colors.ink);

// Bottom bar
ranges.forEach(([t, xx]) => label(t, xx, 1066, 13, colors.soft));
rectBox(345, 1050, 1, 22, '#e4e4e4');
icon('M-9 -6H9V9H-9ZM-5 -9V-4M5 -9V-4M-4 3H4M1 0L4 3L1 6', 370, 1061);
label('13:19:16 UTC+8', 924, 1066, 13, colors.soft);
rectBox(985, 1049, 1, 24, '#e4e4e4');
label('ADJ', 1008, 1066, 13, colors.soft);
icon('M-7 0L-3.5 -6H3.5L7 0L3.5 6H-3.5Z', 997, 1027);
svg.append('circle').attr('cx', 997).attr('cy', 1027).attr('r', 2.5).attr('fill', 'none').attr('stroke', colors.ink);
</script>
</body>
</html>
